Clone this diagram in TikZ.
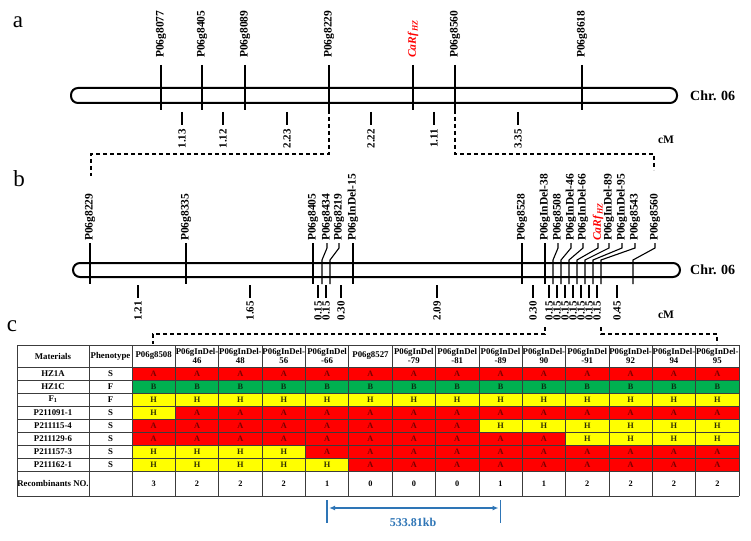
\documentclass[tikz,border=0pt]{standalone}
\usepackage{fontspec}
\setmainfont{Liberation Serif}
\usetikzlibrary{arrows.meta}
\definecolor{cA}{RGB}{255,0,0}
\definecolor{cB}{RGB}{0,176,80}
\definecolor{cH}{RGB}{255,255,0}
\definecolor{tA}{RGB}{120,0,0}
\definecolor{tB}{RGB}{10,50,20}
\definecolor{tH}{RGB}{50,50,0}
\definecolor{arrblue}{RGB}{46,117,182}
\definecolor{gridc}{RGB}{60,60,60}
\newcommand\fs[1]{\fontsize{#1}{#1}\selectfont}
\newcommand\carf{\textit{CaRf}\textsubscript{\textit{HZ}}}
\begin{document}
\begin{tikzpicture}[x=1pt,y=-1pt,
 mk/.style={font=\fs{11.5}\bfseries, rotate=90, anchor=west, inner sep=0pt},
 dl/.style={font=\fs{11}\bfseries, rotate=90, anchor=east, inner sep=0pt},
 chrom/.style={line width=2pt, rounded corners=7pt},
 tk/.style={line width=1.1pt},
 dsh/.style={line width=1.2pt, dash pattern=on 4pt off 3pt},
 pl/.style={font=\fs{23}, inner sep=0pt},
 chr/.style={font=\fs{14}\bfseries, anchor=west, inner sep=0pt},
 cmlab/.style={font=\fs{11.5}\bfseries, inner sep=0pt},
 th/.style={font=\fs{8.8}\bfseries, align=center, inner sep=0pt},
 tb/.style={font=\fs{8.8}\bfseries, inner sep=0pt},
 tc/.style={font=\fs{8.3}\bfseries, inner sep=0pt},
 gridln/.style={gridc, line width=0.7pt},
 blu/.style={arrblue, line width=1.6pt}]
\useasboundingbox (0,0) rectangle (751,540);
\fill[white] (0,0) rectangle (751,540);

% ---------- panel a ----------
\node[pl] (la) at (18,22) {a};
\draw[chrom] (71,88) rectangle (677,103);
\foreach \x/\t [count=\i] in {161/P06g8077,202/P06g8405,245/P06g8089,329/P06g8229,455/P06g8560,582/P06g8618}{
  \node[mk] (ma\i) at (\x,58) {\t};
  \draw[tk] (\x,65) -- (\x,110);
}
\node[mk, text=red] (maC) at (413,58) {\carf};
\draw[tk] (413,65) -- (413,110);
\foreach \x/\t [count=\i] in {182/1.13,223/1.12,287/2.23,371/2.22,434/1.11,518/3.35}{
  \draw[tk] (\x,112) -- (\x,125);
  \node[dl] (da\i) at (\x,129) {\t};
}
\node[chr] (chra) at (690,96) {Chr. 06};
\node[cmlab] (cma) at (666,140) {cM};
\draw[dsh] (329,110) -- (329,154) -- (91,154) -- (91,176);
\draw[dsh] (455,110) -- (455,154) -- (654,154) -- (654,170);

% ---------- panel b ----------
\node[pl] (lb) at (19,179) {b};
\draw[chrom] (73,263) rectangle (680,277);
\foreach \x/\t [count=\i] in {90/P06g8229,186/P06g8335,313/P06g8405,353/P06gInDel-15,522/P06g8528,545/P06gInDel-38}{
  \node[mk] (mb\i) at (\x,241) {\t};
  \draw[tk] (\x,243) -- (\x,284);
}
\foreach \x/\c/\t [count=\i] in {327/322/P06g8434,339/330/P06g8219,558/553/P06g8508,571/561/P06gInDel-46,583/569/P06gInDel-66,609/585/P06gInDel-89,622/593/P06gInDel-95,635/601/P06g8543,655/633/P06g8560}{
  \node[mk] (mk\i) at (\x,241) {\t};
  \draw[tk] (\x,243) -- (\x,248) -- (\c,260) -- (\c,284);
}
\node[mk, text=red] (mbC) at (598,241) {\carf};
\draw[tk] (598,243) -- (598,248) -- (577,260) -- (577,284);
\foreach \x/\t [count=\i] in {138/1.21,250/1.65,318/0.15,326/0.15,341/0.30,437/2.09,533/0.30,549/0.15,557/0.15,565/0.15,573/0.15,581/0.15,589/0.15,597/0.15,617/0.45}{
  \draw[tk] (\x,285) -- (\x,298);
  \node[dl] (db\i) at (\x,301) {\t};
}
\node[chr] (chrb) at (690,270) {Chr. 06};
\node[cmlab] (cmb) at (666,315) {cM};
\draw[dsh] (545,327) -- (545,334) -- (153,334) -- (153,344);
\draw[dsh] (601,327) -- (601,334) -- (717,334) -- (717,344);

% ---------- panel c ----------
\node[pl] (lc) at (12,326) {c};
% header
\node[th] (hm) at (53,356) {Materials};
\node[th] (hp) at (110.5,356) {Phenotype};
\foreach \t [count=\ci from 0] in {P06g8508,P06gInDel-\\46,P06gInDel-\\48,P06gInDel-\\56,P06gInDel\\-66,P06g8527,P06gInDel\\-79,P06gInDel\\-81,P06gInDel\\-89,P06gInDel-\\90,P06gInDel\\-91,P06gInDel-\\92,P06gInDel-\\94,P06gInDel-\\95}{
  \node[th] (h\ci) at (132+43.357*\ci+21.68,356) {\t};
}
% data rows
\foreach \nm/\ph/\cells [count=\ri from 0] in {
  HZ1A/S/{A,A,A,A,A,A,A,A,A,A,A,A,A,A},
  HZ1C/F/{B,B,B,B,B,B,B,B,B,B,B,B,B,B},
  F\textsubscript{1}/F/{H,H,H,H,H,H,H,H,H,H,H,H,H,H},
  P211091-1/S/{H,A,A,A,A,A,A,A,A,A,A,A,A,A},
  P211115-4/S/{A,A,A,A,A,A,A,A,H,H,H,H,H,H},
  P211129-6/S/{A,A,A,A,A,A,A,A,A,A,H,H,H,H},
  P211157-3/S/{H,H,H,H,A,A,A,A,A,A,A,A,A,A},
  P211162-1/S/{H,H,H,H,H,A,A,A,A,A,A,A,A,A}}{
  \pgfmathsetmacro\yt{367+13*\ri}
  \node[tb] (n\ri) at (53,\yt+6.5) {\nm};
  \node[tb] (p\ri) at (110.5,\yt+6.5) {\ph};
  \foreach \c [count=\ci from 0] in \cells {
    \fill[c\c] (132+43.357*\ci,\yt) rectangle ++(43.357,13);
    \node[tc, text=t\c] (c\ri-\ci) at (132+43.357*\ci+21.68,\yt+6.5) {\c};
  }
}
% recombinants
\node[tb] (rn) at (53,483.5) {Recombinants NO.};
\foreach \v [count=\ci from 0] in {3,2,2,2,1,0,0,0,1,1,2,2,2,2}{
  \node[tc] (r\ci) at (132+43.357*\ci+21.68,483.5) {\v};
}
% grid
\foreach \y in {345,367,380,393,406,419,432,445,458,471,496}{
  \draw[gridln] (17,\y) -- (739,\y);
}
\foreach \x in {17,89,132}{
  \draw[gridln] (\x,345) -- (\x,496);
}
\foreach \k in {1,...,14}{
  \draw[gridln] (132+43.357*\k,345) -- (132+43.357*\k,496);
}
% blue interval
\coordinate (bl) at (327.1,508);
\coordinate (br) at (500.5,508);
\draw[blu] (327.1,500) -- (327.1,523);
\draw[blu] (500.5,500) -- (500.5,523);
\draw[blu, {Latex[length=6pt,width=5pt]}-{Latex[length=6pt,width=5pt]}] ([xshift=2pt]bl) -- ([xshift=-2pt]br);
\node[font=\fs{12}\bfseries, text=arrblue, inner sep=0pt] (kb) at (413,522) {533.81kb};
\end{tikzpicture}
\end{document}
